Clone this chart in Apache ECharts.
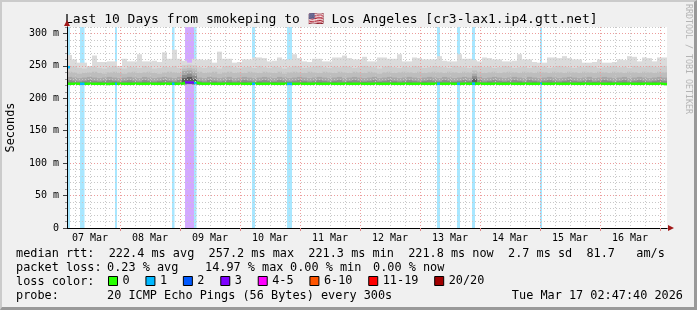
<!DOCTYPE html>
<html>
<head>
<meta charset="utf-8">
<title>SmokePing</title>
<script src="https://cdn.jsdelivr.net/npm/echarts@6.0.0/dist/echarts.min.js"></script>
<style>
  html, body { margin:0; padding:0; background:#f0f0f0; }
  #wrap { position:relative; width:697px; height:310px; }
  #chart { position:absolute; left:0; top:0; width:697px; height:310px; }
  #frame { position:absolute; left:0; top:0; width:697px; height:310px; box-sizing:border-box;
           border-style:solid; border-width:2px 3px 3px 2px;
           border-color:#cbcbcb #999999 #999999 #cbcbcb; pointer-events:none; }
</style>
</head>
<body>
<div id="wrap"><div id="chart"></div><div id="frame"></div></div>
<script>
// ---------- time frame (hours counted from 07 Mar 00:00) ----------
const startHour = 2 + 47/60 + 40/3600;   // 07 Mar 02:47:40
const endHour = startHour + 240;          // 17 Mar 02:47:40
const binHours = 2;

// ---------- tick labels ----------
const dayLabels = ['07 Mar','08 Mar','09 Mar','10 Mar','11 Mar','12 Mar','13 Mar','14 Mar','15 Mar','16 Mar'];
const yTickValues = [0, 50, 100, 150, 200, 250, 300];
const yTickLabels = ['0', '50 m', '100 m', '150 m', '200 m', '250 m', '300 m'];

// ---------- loss classes ----------
const lossClasses = ['0', '1', '2', '3', '4-5', '6-10', '11-19', '20/20'];
const lossColors = ['#26ff00', '#00b8ff', '#0059ff', '#7e00ff', '#ff00ff', '#ff5500', '#ff0000', '#a10000'];

// ---------- smoke (ms), one value per 2-hour bin ----------
const minRtt = [
 221.5,221.6,221.4,221.5,221.6,221.5,221.4,221.5,221.6,221.5,
 221.4,221.5,221.6,221.5,221.4,221.5,221.6,221.5,221.4,221.5,
 221.6,221.5,221.4,221.8,222.0,221.7,221.5,221.4,221.5,221.6,
 221.5,221.4,221.5,221.6,221.5,221.4,221.5,221.6,221.5,221.4,
 221.5,221.6,221.5,221.4,221.5,221.6,221.5,221.4,221.5,221.6,
 221.5,221.4,221.5,221.6,221.5,221.4,221.5,221.6,221.5,221.4,
 221.5,221.6,221.5,221.4,221.5,221.6,221.5,221.4,221.5,221.6,
 221.5,221.4,221.5,221.6,221.5,221.4,221.5,221.6,221.5,221.4,
 221.5,221.7,221.5,221.4,221.5,221.6,221.5,221.4,221.5,221.6,
 221.5,221.4,221.5,221.6,221.5,221.4,221.5,221.6,221.5,221.4,
 221.5,221.6,221.5,221.4,221.5,221.6,221.5,221.4,221.5,221.6,
 221.5,221.4,221.5,221.6,221.5,221.4,221.5,221.6,221.5,221.4
];
const coreRtt = [
 224,223,223,224,223,223,224,223,223,224,
 223,223,224,223,223,224,223,223,224,223,
 223,224,223,231,233,230,224,223,223,224,
 223,223,224,223,223,224,223,223,224,223,
 223,224,223,223,224,223,223,224,223,223,
 224,223,223,224,223,223,224,223,223,224,
 223,223,224,223,223,224,223,223,224,223,
 223,224,223,223,224,223,223,224,223,223,
 224,230,223,223,224,223,223,224,223,223,
 224,223,223,224,223,223,224,223,223,224,
 223,223,224,223,223,224,223,223,224,223,
 223,224,223,223,224,223,223,224,223,223
];
const innerRtt = [
 228,227,226,227,228,227,226,227,228,227,
 226,227,228,227,226,228,227,226,227,228,
 227,226,228,236,238,235,227,226,228,227,
 226,227,228,226,227,228,227,226,227,228,
 227,226,228,227,226,227,228,227,226,227,
 228,227,226,227,228,226,227,228,227,226,
 227,228,226,227,228,227,226,227,228,227,
 226,227,228,227,226,228,227,226,227,228,
 227,234,228,226,227,228,227,226,227,228,
 227,226,228,227,226,227,228,227,226,227,
 228,227,226,227,228,226,227,228,227,226,
 227,228,226,227,228,227,226,227,228,227
];
const midRtt = [
 233,232,231,232,233,232,231,232,233,232,
 231,232,233,232,231,233,232,231,232,233,
 232,231,233,242,243,241,232,231,233,232,
 231,232,233,231,232,233,232,231,232,233,
 232,231,233,232,231,232,233,232,231,232,
 233,232,231,232,233,231,232,233,232,231,
 232,233,231,232,233,232,231,232,233,232,
 231,232,233,232,231,233,232,231,232,233,
 232,238,233,231,232,233,232,231,232,233,
 232,231,233,232,231,232,233,232,231,232,
 233,232,231,232,233,231,232,233,232,231,
 232,233,231,232,233,232,231,232,233,232
];
const upperRtt = [
 241,240,238,239,240,241,239,238,240,241,
 239,238,240,241,239,240,241,239,238,240,
 241,240,239,246,247,246,241,239,240,241,
 238,240,241,239,240,239,241,240,239,241,
 240,239,241,238,240,241,240,239,241,240,
 239,241,240,239,241,240,239,241,240,239,
 241,240,238,240,241,239,240,241,240,239,
 241,239,240,241,240,239,241,240,239,241,
 240,243,241,239,240,241,239,240,241,240,
 239,241,240,239,241,240,239,241,240,239,
 241,240,239,241,240,239,241,240,239,241,
 240,239,241,240,239,241,240,239,241,240
];
const outerRtt = [
 250,249,247,246,248,249,247,246,248,250,
 247,246,249,248,247,250,248,246,247,249,
 248,250,247,251,252,251,248,247,249,248,
 246,249,250,248,247,248,249,247,250,248,
 247,249,248,246,248,250,249,247,248,249,
 250,248,247,249,248,250,249,247,248,250,
 249,248,246,249,250,248,247,249,248,250,
 249,247,248,250,249,248,247,250,249,248,
 247,250,250,248,249,247,248,250,249,247,
 248,249,247,250,248,249,247,248,250,249,
 248,247,249,248,250,249,247,248,249,250,
 248,249,247,250,249,248,250,249,248,250
];
const maxRtt = [
 267,260,255,255,250,266,256,256,257,257,
 250,261,257,257,268,257,257,258,256,271,
 261,275,261,258,255,261,260,259,260,255,
 272,261,261,255,256,260,260,263,263,262,
 257,258,263,260,260,268,262,257,256,261,
 261,257,257,263,263,266,262,260,260,264,
 257,257,263,263,261,261,268,257,257,263,
 262,260,260,260,265,258,257,257,268,261,
 261,259,257,263,262,260,260,257,257,258,
 268,260,260,256,255,255,263,263,262,265,
 262,260,260,255,255,256,260,255,255,256,
 260,259,265,264,257,263,262,257,263,263
];
const medianRtt = [
 222.5,222.4,222.3,222.4,222.5,222.3,222.4,222.2,222.4,222.5,
 222.3,222.4,222.5,222.3,222.4,222.4,222.3,222.5,222.4,222.3,
 222.4,222.5,222.6,224.5,225.0,224.0,222.5,222.4,222.3,222.4,
 222.5,222.3,222.4,222.4,222.3,222.5,222.4,222.3,222.4,222.5,
 222.3,222.4,222.5,222.3,222.4,222.3,222.5,222.4,222.3,222.4,
 222.5,222.3,222.4,222.4,222.3,222.5,222.4,222.3,222.4,222.5,
 222.3,222.4,222.5,222.3,222.4,222.3,222.5,222.4,222.3,222.4,
 222.5,222.3,222.4,222.4,222.3,222.5,222.4,222.3,222.4,222.5,
 222.3,222.8,222.5,222.3,222.4,222.3,222.5,222.4,222.3,222.4,
 222.5,222.3,222.4,222.4,222.3,222.5,222.4,222.3,222.4,222.5,
 222.3,222.4,222.5,222.3,222.4,222.3,222.5,222.4,222.3,222.4,
 222.5,222.3,222.4,222.4,222.3,222.5,222.4,222.3,222.4,221.8
];

// ---------- loss events: [start hour, end hour, loss class index, median ms] ----------
const lossEvents = [
 [2.8, 4.0, 1, 248.0],
 [8.0, 9.8, 1, 222.4],
 [22.0, 22.8, 1, 222.3],
 [44.8, 45.8, 1, 222.5],
 [50.0, 53.6, 3, 224.5],
 [53.6, 54.6, 1, 223.5],
 [76.8, 78.0, 1, 222.4],
 [90.8, 92.8, 1, 222.3],
 [150.8, 152.0, 1, 222.5],
 [158.8, 160.0, 1, 222.4],
 [164.8, 166.0, 1, 222.6],
 [192.0, 192.8, 1, 222.4]
];

// ---------- legend texts ----------
const titleText = 'Last 10 Days from smokeping to \u{1F1FA}\u{1F1F8} Los Angeles [cr3-lax1.ip4.gtt.net]';
const rttLine = 'median rtt:  222.4 ms avg  257.2 ms max  221.3 ms min  221.8 ms now  2.7 ms sd  81.7   am/s';
const lossLabel = 'packet loss:';
const lossParts = ['0.23 % avg', '14.97 % max', '0.00 % min', '0.00 % now'];
const probeLabel = 'probe:';
const probeText = '20 ICMP Echo Pings (56 Bytes) every 300s';
const dateText = 'Tue Mar 17 02:47:40 2026';

// ================= build =================
const MONO = '"DejaVu Sans Mono", "Liberation Mono", monospace';
const LEG_FONT = '11.85px ' + MONO;
const Y_MAX = 310;
// colours from the darkest (core) to the lightest (max)
const smokeColors = ['#5c5c5c', '#8c8c8c', '#a8a8a8', '#bdbdbd', '#cdcdcd', '#dbdbdb'];

function rgba(hex, a) {
  const n = parseInt(hex.slice(1), 16);
  return 'rgba(' + (n >> 16 & 255) + ',' + (n >> 8 & 255) + ',' + (n & 255) + ',' + a + ')';
}

// smoke rows: [t0, t1, low, high, layer]; lightest (widest) layer first so darker ones lie on top
const levels = [coreRtt, innerRtt, midRtt, upperRtt, outerRtt, maxRtt];
const tops = [];
let prev = minRtt.slice();
levels.forEach(lv => { prev = lv.map((v, i) => Math.max(v, prev[i])); tops.push(prev); });
const smokeRows = [];
for (let k = levels.length - 1; k >= 0; k--) {
  tops[k].forEach((v, i) => {
    smokeRows.push([startHour + binHours * i, startHour + binHours * (i + 1), minRtt[i], v, k]);
  });
}
const medianData = medianRtt.map((v, i) => [startHour + binHours * i, v]);
medianData.push([endHour, medianRtt[medianRtt.length - 1]]);

const midnights = [], minors = [], noons = [];
for (let h = 0; h <= 246; h += 6) {
  if (h < startHour || h > endHour) continue;
  if (h % 24 === 0) midnights.push(h); else minors.push(h);
  if (h % 24 === 12) noons.push(h);
}

const series = [];
// loss bars (full height, translucent)
series.push({
  type: 'custom', name: 'lossbars', z: 1, silent: true, clip: true,
  data: lossEvents,
  encode: { x: [0, 1], y: 3 },
  renderItem: function (params, api) {
    const p0 = api.coord([api.value(0), Y_MAX]);
    const p1 = api.coord([api.value(1), 0]);
    return { type: 'rect',
      shape: { x: p0[0], y: p0[1], width: p1[0] - p0[0], height: p1[1] - p0[1] },
      style: { fill: rgba(lossColors[api.value(2)], 0.34) } };
  }
});
// smoke
series.push({
  type: 'custom', name: 'smoke', z: 2, silent: true, clip: true,
  data: smokeRows,
  encode: { x: [0, 1], y: [2, 3] },
  renderItem: function (params, api) {
    const p0 = api.coord([api.value(0), api.value(3)]);
    const p1 = api.coord([api.value(1), api.value(2)]);
    return { type: 'rect',
      shape: { x: p0[0], y: p0[1], width: p1[0] - p0[0], height: p1[1] - p0[1] },
      style: { fill: smokeColors[api.value(4)] } };
  }
});
// median line (loss 0)
series.push({
  type: 'line', name: lossClasses[0], step: 'end', symbol: 'none', silent: true, z: 3,
  itemStyle: { color: lossColors[0] },
  lineStyle: { color: lossColors[0], width: 2.5 },
  data: medianData
});
// coloured median segments for loss classes
for (let c = 1; c < lossClasses.length; c++) {
  series.push({
    type: 'custom', name: lossClasses[c], z: 4, silent: true, clip: true,
    itemStyle: { color: lossColors[c] },
    data: lossEvents.filter(e => e[2] === c),
    encode: { x: [0, 1], y: 3 },
    renderItem: function (params, api) {
      const a = api.coord([api.value(0), api.value(3)]);
      const b = api.coord([api.value(1), api.value(3)]);
      return { type: 'line', shape: { x1: a[0], y1: a[1], x2: b[0], y2: b[1] },
        style: { stroke: api.visual('color'), lineWidth: 2.5 } };
    }
  });
}

const dotted = [1, 2];
const option = {
  animation: false,
  backgroundColor: '#f0f0f0',
  textStyle: { fontFamily: MONO },
  title: {
    text: titleText, left: 65, top: 13, padding: 0,
    textStyle: { fontFamily: MONO, fontSize: 13, fontWeight: 'normal', color: '#000' }
  },
  grid: { left: 67, top: 27, width: 600, height: 201, show: true, backgroundColor: '#ffffff',
          borderWidth: 0, containLabel: false, outerBoundsMode: 'none' },
  legend: {
    data: lossClasses, left: 108, top: 275, padding: 0, itemGap: 15.8,
    itemWidth: 9, itemHeight: 9, icon: 'rect', selectedMode: false,
    itemStyle: { borderColor: '#000', borderWidth: 1 },
    textStyle: { fontFamily: MONO, fontSize: 11.85, color: '#000' }
  },
  xAxis: [
    { type: 'value', position: 'bottom', min: startHour, max: endHour, z: 11,
      axisLine: { show: true, onZero: false, lineStyle: { color: '#000', width: 1 } },
      axisTick: { show: true, length: 3, customValues: midnights, lineStyle: { color: '#e08a8a' } },
      axisLabel: { show: true, customValues: noons, margin: 5, fontFamily: MONO, fontSize: 10, color: '#000',
        formatter: v => dayLabels[Math.round((v - 12) / 24)] },
      splitLine: { show: true, lineStyle: { color: '#ec9c9c', type: dotted, width: 1 } }
    },
    { type: 'value', position: 'bottom', offset: 0, min: startHour, max: endHour, z: 10,
      axisLine: { show: true, onZero: false, lineStyle: { color: '#a01818', width: 1 },
        symbol: ['none', 'triangle'], symbolSize: [6, 6], symbolOffset: [0, 4] },
      axisTick: { show: false, customValues: minors },
      axisLabel: { show: false },
      splitLine: { show: true, lineStyle: { color: '#c8c8c8', type: dotted, width: 1 } }
    }
  ],
  yAxis: [
    { type: 'value', position: 'left', min: 0, max: Y_MAX, z: 11,
      name: 'Seconds', nameLocation: 'middle', nameGap: 50,
      nameTextStyle: { fontFamily: MONO, fontSize: 11.85, color: '#000' },
      axisLine: { show: true, onZero: false, lineStyle: { color: '#000', width: 1 } },
      axisTick: { show: true, length: 4, customValues: yTickValues, lineStyle: { color: '#444' } },
      axisLabel: { show: true, customValues: yTickValues, margin: 8, fontFamily: MONO, fontSize: 10, color: '#000',
        formatter: v => yTickLabels[yTickValues.indexOf(v)] },
      splitLine: { show: true, lineStyle: { color: '#ec9c9c', type: dotted, width: 1 } }
    },
    { type: 'value', position: 'left', offset: 0, min: 0, max: Y_MAX, interval: 10, z: 10,
      axisLine: { show: true, onZero: false, lineStyle: { color: '#a01818', width: 1 },
        symbol: ['none', 'triangle'], symbolSize: [6, 6], symbolOffset: [0, 4] },
      axisTick: { show: true, length: 2, lineStyle: { color: '#999' } },
      axisLabel: { show: false },
      splitLine: { show: true, lineStyle: { color: '#c8c8c8', type: dotted, width: 1 } }
    }
  ],
  graphic: [
    { type: 'text', x: 688, y: 59, rotation: -Math.PI / 2, z: 100,
      style: { text: 'RRDTOOL / TOBI OETIKER', font: '8.3px ' + MONO, fill: '#b4b4b4', align: 'center', verticalAlign: 'middle' } },
    { type: 'text', x: 16, y: 254, z: 100,
      style: { text: rttLine, font: LEG_FONT, fill: '#000', verticalAlign: 'middle' } },
    { type: 'text', x: 16, y: 268, z: 100,
      style: { text: lossLabel, font: LEG_FONT, fill: '#000', verticalAlign: 'middle' } },
    { type: 'text', x: 107, y: 268, z: 100,
      style: { text: lossParts[0], font: LEG_FONT, fill: '#000', verticalAlign: 'middle' } },
    { type: 'text', x: 205, y: 268, z: 100,
      style: { text: lossParts[1], font: LEG_FONT, fill: '#000', verticalAlign: 'middle' } },
    { type: 'text', x: 290, y: 268, z: 100,
      style: { text: lossParts[2], font: LEG_FONT, fill: '#000', verticalAlign: 'middle' } },
    { type: 'text', x: 373, y: 268, z: 100,
      style: { text: lossParts[3], font: LEG_FONT, fill: '#000', verticalAlign: 'middle' } },
    { type: 'text', x: 16, y: 282, z: 100,
      style: { text: 'loss color:', font: LEG_FONT, fill: '#000', verticalAlign: 'middle' } },
    { type: 'text', x: 16, y: 296, z: 100,
      style: { text: probeLabel, font: LEG_FONT, fill: '#000', verticalAlign: 'middle' } },
    { type: 'text', x: 107, y: 296, z: 100,
      style: { text: probeText, font: LEG_FONT, fill: '#000', verticalAlign: 'middle' } },
    { type: 'text', x: 683, y: 296, z: 100,
      style: { text: dateText, font: LEG_FONT, fill: '#000', align: 'right', verticalAlign: 'middle' } }
  ],
  series: series
};

const chart = echarts.init(document.getElementById('chart'), null, { renderer: 'canvas' });
chart.setOption(option);
</script>
</body>
</html>
